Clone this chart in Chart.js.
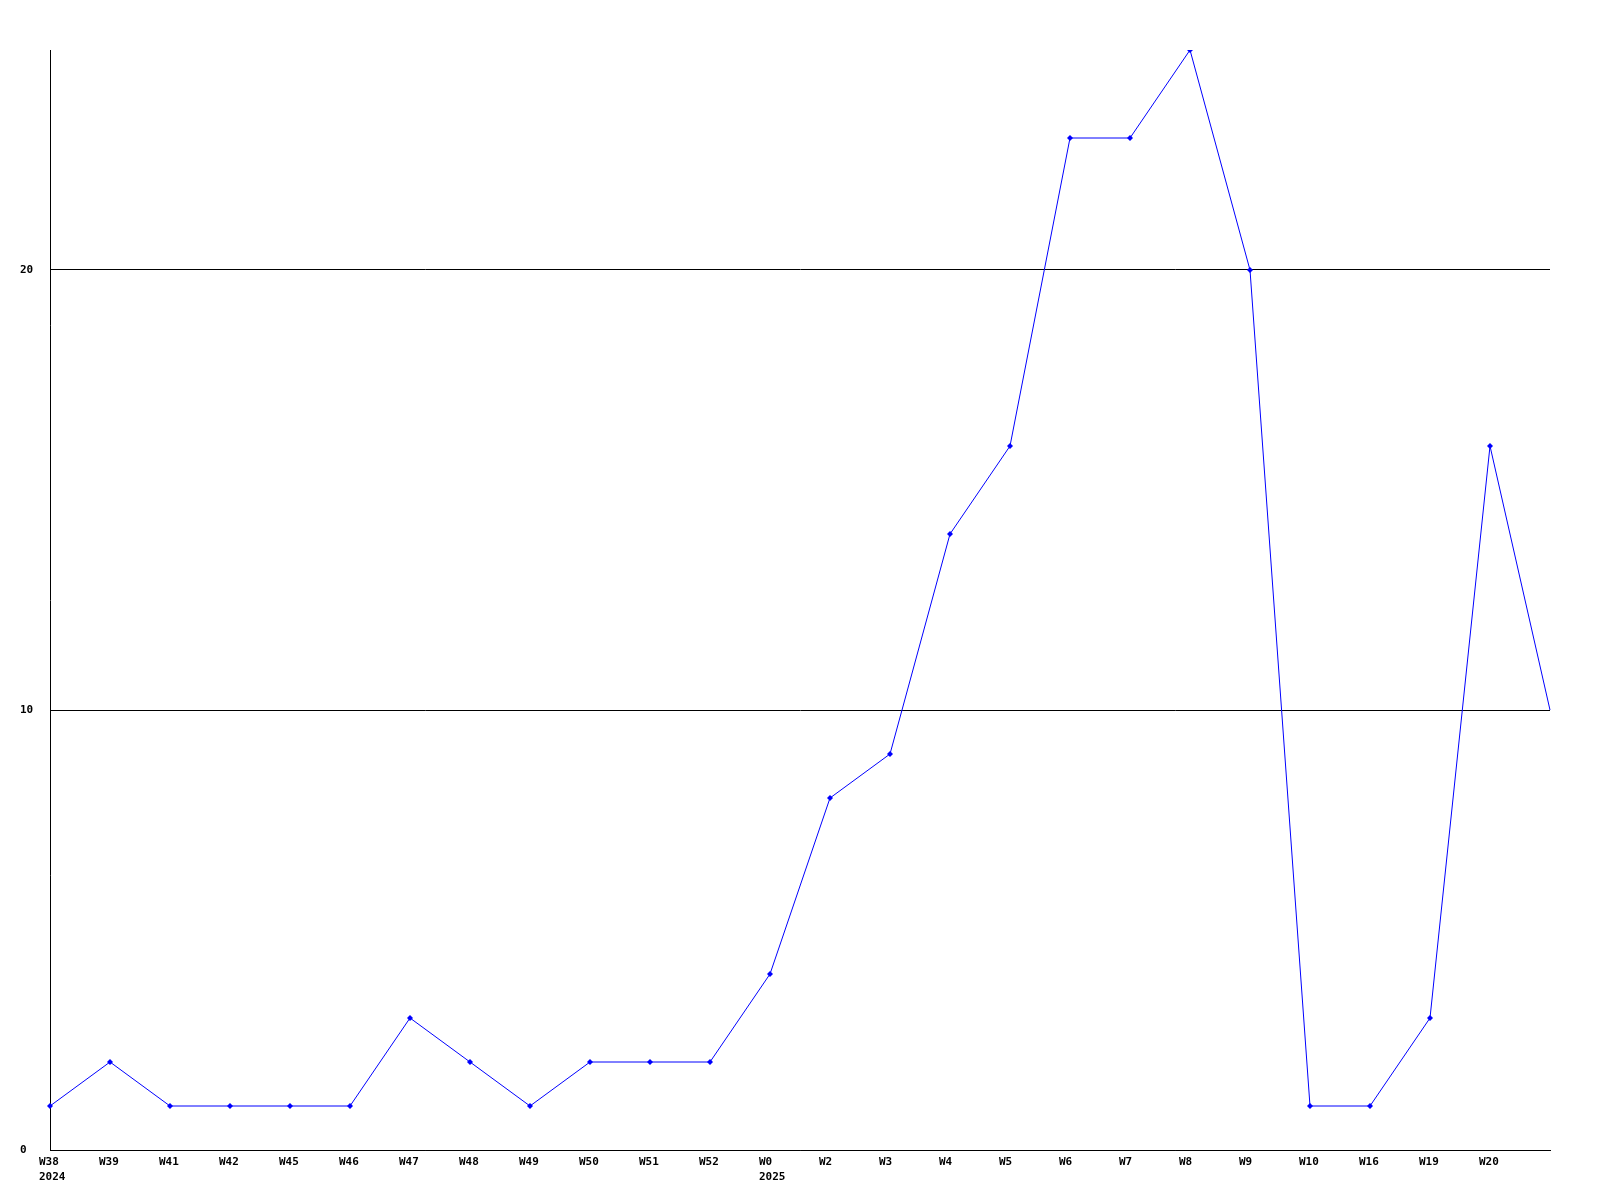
<!DOCTYPE html>
<html>
<head>
<meta charset="utf-8">
<script src="https://cdn.jsdelivr.net/npm/chart.js@4.4.1/dist/chart.umd.min.js"></script>
<style>
  html, body { margin: 0; padding: 0; background: #fff; }
  #wrap { width: 1600px; height: 1200px; }
</style>
</head>
<body>
<div id="wrap"><canvas id="myChart" width="1600" height="1200"></canvas></div>
<script>
var weeks = [['W38','2024'],'W39','W41','W42','W45','W46','W47','W48','W49','W50','W51','W52',
    ['W0','2025'],'W2','W3','W4','W5','W6','W7','W8','W9','W10','W16','W19','W20',''];
var counts = [1,2,1,1,1,1,3,2,1,2,2,2,4,8,9,14,16,23,23,25,20,1,1,3,16,10];
var yTicks = [0, 10, 20];

var radii = counts.map(function (v, i) { return i === counts.length - 1 ? 0 : 3; });

var ctx = document.getElementById('myChart').getContext('2d');
var myChart = new Chart(ctx, {
    type: 'line',
    data: {
        labels: weeks,
        datasets: [{
            data: counts,
            borderColor: '#0000ff',
            backgroundColor: '#0000ff',
            borderWidth: 1,
            pointStyle: 'rectRot',
            pointRadius: radii,
            pointBorderWidth: 0,
            tension: 0,
            fill: false
        }]
    },
    options: {
        responsive: false,
        animation: false,
        devicePixelRatio: 1,
        layout: { padding: { top: 50, right: 50, left: 20, bottom: 0 } },
        plugins: { legend: { display: false }, tooltip: { enabled: false } },
        scales: {
            x: {
                offset: false,
                grid: { display: false, drawTicks: false },
                border: { display: true, color: '#000', width: 1 },
                ticks: {
                    color: '#000',
                    font: { family: 'DejaVu Sans Mono', size: 11, weight: 'bold', lineHeight: 1.35 },
                    padding: 5,
                    align: 'start',
                    labelOffset: -11,
                    maxRotation: 0,
                    autoSkip: false
                },
                afterFit: function (scale) { scale.height = 50; }
            },
            y: {
                min: 0,
                max: 25,
                afterBuildTicks: function (scale) {
                    scale.ticks = yTicks.map(function (v) { return { value: v }; });
                },
                grid: { color: '#000', lineWidth: 1, drawTicks: false },
                border: { display: true, color: '#000', width: 1 },
                ticks: {
                    color: '#000',
                    crossAlign: 'far',
                    font: { family: 'DejaVu Sans Mono', size: 11, weight: 'bold' },
                    padding: 0
                },
                afterFit: function (scale) { scale.width = 30; }
            }
        }
    }
});
</script>
</body>
</html>
